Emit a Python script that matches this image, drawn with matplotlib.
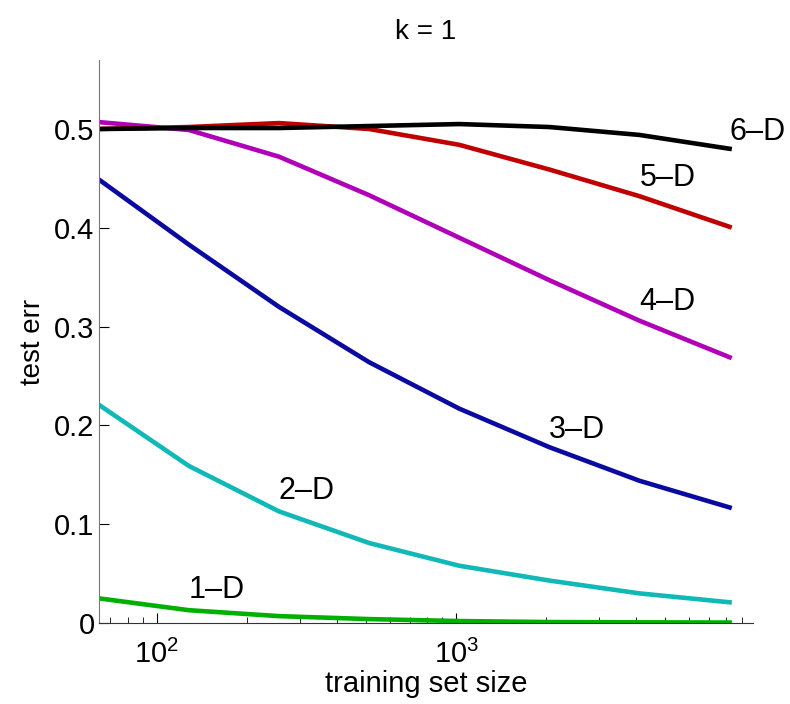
import numpy as np
import matplotlib
matplotlib.use('Agg')
import matplotlib.pyplot as plt
from matplotlib.ticker import FixedLocator

# training set sizes
sizes = [64, 128, 256, 512, 1024, 2048, 4096, 8192]

# test error per dimension
err_1d = [0.025, 0.013, 0.007, 0.004, 0.002, 0.001, 0.0007, 0.0005]
err_2d = [0.221, 0.159, 0.113, 0.081, 0.058, 0.043, 0.030, 0.021]
err_3d = [0.449, 0.383, 0.320, 0.264, 0.217, 0.178, 0.144, 0.117]
err_4d = [0.507, 0.499, 0.472, 0.433, 0.390, 0.347, 0.306, 0.269]
err_5d = [0.500, 0.502, 0.506, 0.500, 0.484, 0.459, 0.432, 0.401]
err_6d = [0.500, 0.501, 0.501, 0.503, 0.505, 0.502, 0.494, 0.480]

labels = ['1\u2013D', '2\u2013D', '3\u2013D', '4\u2013D', '5\u2013D', '6\u2013D']
label_x = [128, 256, 2048, 4096, 4096, 8192]
label_y = [0.033, 0.134, 0.195, 0.325, 0.450, 0.497]
colors = ['#00b000', '#10b8b8', '#0a0aa0', '#b000b8', '#c00000', '#000000']


def main():
    plt.rcParams['font.family'] = ['Liberation Sans', 'DejaVu Sans']
    plt.rcParams['mathtext.default'] = 'regular'

    fig = plt.figure(figsize=(7.9, 7.04), dpi=100)
    ax = fig.add_axes([0.125, 0.115, 0.828, 0.80])

    series = [err_1d, err_2d, err_3d, err_4d, err_5d, err_6d]
    for s, c in zip(series, colors):
        ax.plot(sizes, s, color=c, lw=3.3, solid_joinstyle='round')

    for t, lx, ly in zip(labels, label_x, label_y):
        ax.text(lx, ly, t, fontsize=22, ha='left', va='center')

    ax.set_xscale('log')
    ax.set_xlim(64, 9800)
    ax.set_ylim(0, 0.57)
    ax.yaxis.set_major_locator(FixedLocator([0, 0.1, 0.2, 0.3, 0.4, 0.5]))
    ax.set_yticklabels(['0', '0.1', '0.2', '0.3', '0.4', '0.5'])

    ax.spines['top'].set_visible(False)
    ax.spines['right'].set_visible(False)
    ax.spines['left'].set_color('#777777')
    ax.spines['bottom'].set_color('#333333')
    ax.tick_params(which='both', direction='in', labelsize=21)
    ax.tick_params(which='major', length=7)
    ax.tick_params(which='minor', length=4)
    ax.tick_params(axis='x', which='major', pad=12)
    ax.tick_params(axis='y', which='major', pad=3)

    ax.set_title('k = 1', fontsize=20, pad=15)
    ax.set_xlabel('training set size', fontsize=21, labelpad=1)
    ax.set_ylabel('test err', fontsize=20, labelpad=6)

    fig.savefig('out.png', dpi=100)


if __name__ == "__main__":
    main()
